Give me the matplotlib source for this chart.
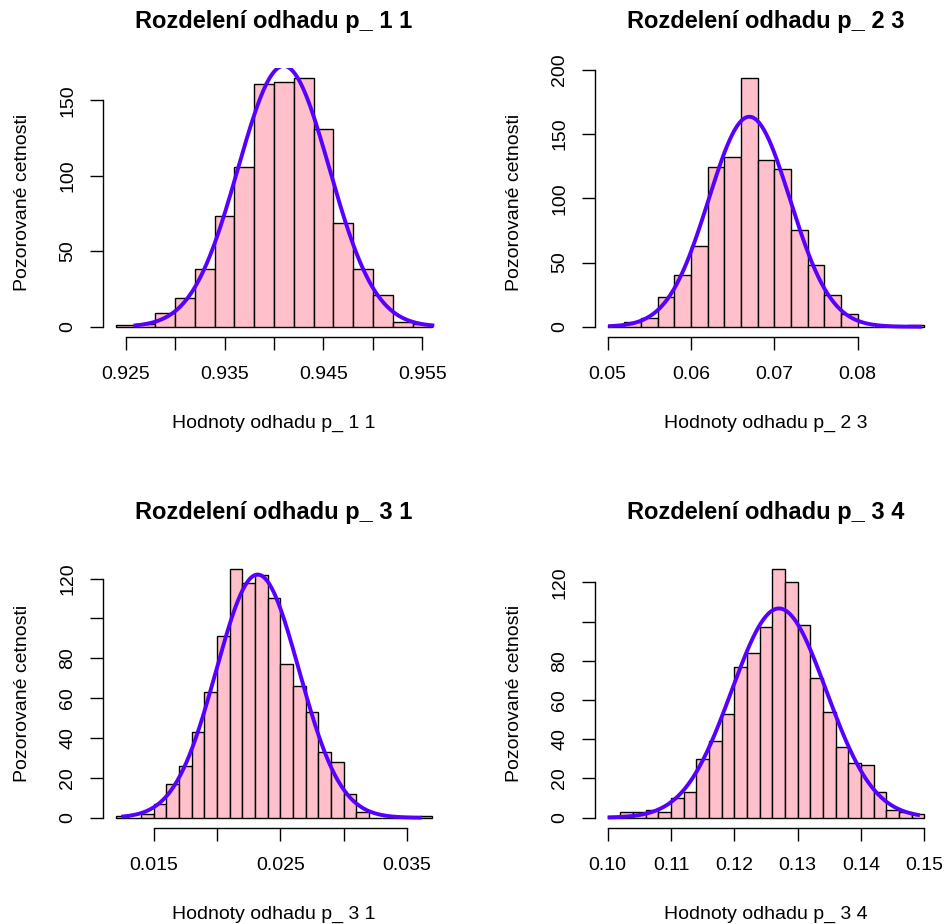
import numpy as np
import matplotlib.pyplot as plt

plt.rcParams['font.family'] = ['Liberation Sans', 'DejaVu Sans']

n_sim = 1000

# p_ 1 1
names_11 = 'p_ 1 1'
bin_start_11 = 0.924
bin_width_11 = 0.002
counts_11 = [1, 2, 9, 19, 38, 73, 106, 161, 162, 165, 131, 69, 38, 21, 3, 2]
mean_11, sd_11 = 0.94098, 0.00462
curve_range_11 = (0.926, 0.956)
xticks_11 = [0.925, 0.930, 0.935, 0.940, 0.945, 0.950, 0.955]
xlabels_11 = ['0.925', '', '0.935', '', '0.945', '', '0.955']
yticks_11 = [0, 50, 100, 150]
ylabels_11 = ['0', '50', '100', '150']

# p_ 2 3
names_23 = 'p_ 2 3'
bin_start_23 = 0.050
bin_width_23 = 0.002
counts_23 = [1, 4, 7, 23, 40, 63, 124, 132, 194, 130, 123, 75, 48, 25, 10, 0, 0, 0, 1]
mean_23, sd_23 = 0.0670, 0.00488
curve_range_23 = (0.0503, 0.0875)
xticks_23 = [0.05, 0.06, 0.07, 0.08]
xlabels_23 = ['0.05', '0.06', '0.07', '0.08']
yticks_23 = [0, 50, 100, 150, 200]
ylabels_23 = ['0', '50', '100', '150', '200']

# p_ 3 1
names_31 = 'p_ 3 1'
bin_start_31 = 0.012
bin_width_31 = 0.001
counts_31 = [1, 0, 2, 7, 17, 26, 43, 63, 91, 125, 118, 122, 110, 77, 66, 53,
             33, 28, 12, 3, 0, 0, 0, 0, 1]
mean_31, sd_31 = 0.02321, 0.00327
curve_range_31 = (0.0126, 0.0360)
xticks_31 = [0.015, 0.020, 0.025, 0.030, 0.035]
xlabels_31 = ['0.015', '', '0.025', '', '0.035']
yticks_31 = [0, 20, 40, 60, 80, 100, 120]
ylabels_31 = ['0', '20', '40', '60', '80', '', '120']

# p_ 3 4
names_34 = 'p_ 3 4'
bin_start_34 = 0.100
bin_width_34 = 0.002
counts_34 = [1, 3, 3, 4, 3, 10, 13, 30, 39, 53, 77, 84, 97, 127, 120, 98,
             71, 54, 36, 28, 27, 13, 4, 3, 2]
mean_34, sd_34 = 0.12705, 0.00748
curve_range_34 = (0.1003, 0.1490)
xticks_34 = [0.10, 0.11, 0.12, 0.13, 0.14, 0.15]
xlabels_34 = ['0.10', '0.11', '0.12', '0.13', '0.14', '0.15']
yticks_34 = [0, 20, 40, 60, 80, 100, 120]
ylabels_34 = ['0', '20', '40', '60', '80', '', '120']


def plot_hist(ax, name, start, width, counts, mean, sd, crange,
              xticks, xlabels, yticks, ylabels, xlab_y):
    counts = np.array(counts)
    edges = start + width * np.arange(len(counts) + 1)
    ax.bar(edges[:-1], counts, width=width, align='edge',
           color='#FFC0CB', edgecolor='black', linewidth=1.0)

    xs = np.linspace(crange[0], crange[1], 400)
    ys = n_sim * width * np.exp(-0.5 * ((xs - mean) / sd) ** 2) / (sd * np.sqrt(2 * np.pi))
    ax.plot(xs, ys, color='#5800FF', linewidth=2.8)

    # R style axis ranges (4 % extension)
    dx = 0.04 * (edges[-1] - edges[0])
    ax.set_xlim(edges[0] - dx, edges[-1] + dx)
    ymax = counts.max()
    ax.set_ylim(-0.04 * ymax, 1.04 * ymax)

    ax.set_xticks(xticks)
    ax.set_xticklabels(xlabels)
    ax.set_yticks(yticks)
    ax.set_yticklabels(ylabels, rotation=90, va='center')

    for s in ['top', 'right']:
        ax.spines[s].set_visible(False)
    ax.spines['bottom'].set_bounds(xticks[0], xticks[-1])
    ax.spines['left'].set_bounds(yticks[0], yticks[-1])
    for s in ['bottom', 'left']:
        ax.spines[s].set_linewidth(1.0)
    ax.tick_params(axis='both', length=9.1, width=1.0, labelsize=14)
    ax.tick_params(axis='x', pad=12)
    ax.tick_params(axis='y', pad=10.2)

    ax.set_title('Rozdelení odhadu ' + name, fontsize=17, fontweight='bold', pad=28.8)
    ax.set_xlabel('Hodnoty odhadu ' + name, fontsize=14)
    ax.set_ylabel('Pozorované cetnosti', fontsize=14)
    ax.xaxis.set_label_coords(0.5, xlab_y)
    ax.yaxis.set_label_coords(-0.2111, 0.5)


fig = plt.figure(figsize=(9.45, 9.24), dpi=100)
W, H = 945, 924
aw, ah = 342 / W, 269.1 / H
left_l, left_r = 103 / W, 595 / W
bot_top, bot_bot = (H - 336.7) / H, (H - 827.7) / H

ax1 = fig.add_axes([left_l, bot_top, aw, ah])
plot_hist(ax1, names_11, bin_start_11, bin_width_11, counts_11, mean_11, sd_11,
          curve_range_11, xticks_11, xlabels_11, yticks_11, ylabels_11, -0.29)

ax2 = fig.add_axes([left_r, bot_top, aw, ah])
plot_hist(ax2, names_23, bin_start_23, bin_width_23, counts_23, mean_23, sd_23,
          curve_range_23, xticks_23, xlabels_23, yticks_23, ylabels_23, -0.29)

ax3 = fig.add_axes([left_l, bot_bot, aw, ah])
plot_hist(ax3, names_31, bin_start_31, bin_width_31, counts_31, mean_31, sd_31,
          curve_range_31, xticks_31, xlabels_31, yticks_31, ylabels_31, -0.29)

ax4 = fig.add_axes([left_r, bot_bot, aw, ah])
plot_hist(ax4, names_34, bin_start_34, bin_width_34, counts_34, mean_34, sd_34,
          curve_range_34, xticks_34, xlabels_34, yticks_34, ylabels_34, -0.29)

fig.savefig('out.png', dpi=100, facecolor='white')
